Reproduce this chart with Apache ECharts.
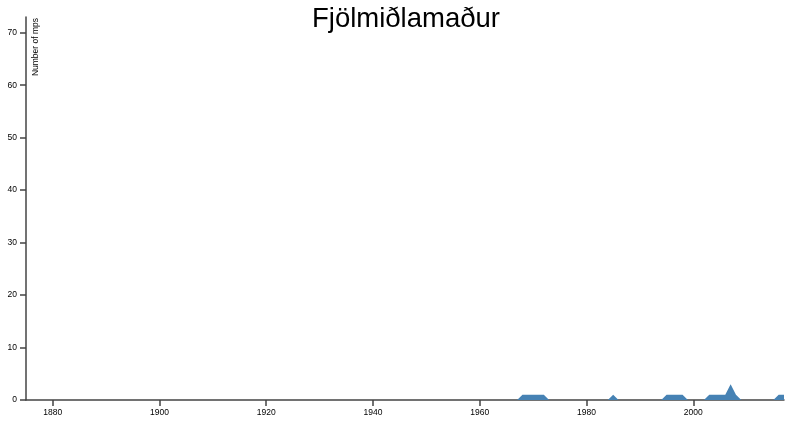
<!DOCTYPE html>
<html>
<head>
<meta charset="utf-8">
<script src="https://cdn.jsdelivr.net/npm/echarts@6.0.0/dist/echarts.min.js"></script>
<style>
  html, body { margin: 0; padding: 0; background: #fff; }
  #chart { width: 800px; height: 437px; }
</style>
</head>
<body>
<div id="chart"></div>
<script>
// 标题和坐标轴
const chartTitle = 'Fjölmiðlamaður';
const yAxisName = 'Number of mps';
const xTickValues = [1880, 1900, 1920, 1940, 1960, 1980, 2000];
const yTickValues = [0, 10, 20, 30, 40, 50, 60, 70];

// 每年的议员人数
const years  = [1875, 1967, 1968, 1969, 1970, 1971, 1972, 1973, 1984, 1985, 1986,
                1994, 1995, 1996, 1997, 1998, 1999, 2002, 2003, 2004, 2005, 2006,
                2007, 2008, 2009, 2015, 2016, 2017];
const counts = [0, 0, 1, 1, 1, 1, 1, 0, 0, 1, 0,
                0, 1, 1, 1, 1, 0, 0, 1, 1, 1, 1,
                3, 1, 0, 0, 1, 1];

const axisColor = '#444';
const fontFamily = '"Liberation Sans", Arial, sans-serif';
const smallFont = 8.5;

function initChart() {
    const chart = echarts.init(document.getElementById('chart'));

    const option = {
        animation: false,
        title: {
            text: chartTitle,
            left: 307,
            top: 0,
            textStyle: {
                fontFamily: fontFamily,
                fontSize: 27.5,
                fontWeight: 'normal',
                color: '#000'
            }
        },
        grid: {
            left: 26,
            right: 16,
            top: 17,
            bottom: 37
        },
        xAxis: {
            type: 'value',
            min: 1875,
            max: 2017,
            splitLine: { show: false },
            axisLine: { lineStyle: { color: axisColor, width: 1.5 } },
            axisTick: {
                length: 6,
                customValues: xTickValues,
                lineStyle: { color: axisColor, width: 1.5 }
            },
            axisLabel: {
                customValues: xTickValues,
                formatter: function(value) {
                    return String(value);
                },
                margin: 8,
                fontFamily: fontFamily,
                fontSize: smallFont,
                color: '#000'
            }
        },
        yAxis: {
            type: 'value',
            min: 0,
            max: 73,
            splitLine: { show: false },
            axisLine: { show: true, lineStyle: { color: axisColor, width: 1.5 } },
            axisTick: {
                show: true,
                length: 6,
                customValues: yTickValues,
                lineStyle: { color: axisColor, width: 1.5 }
            },
            axisLabel: {
                customValues: yTickValues,
                margin: 9,
                fontFamily: fontFamily,
                fontSize: smallFont,
                color: '#000'
            }
        },
        graphic: [
            {
                type: 'text',
                x: 31,
                y: 18,
                rotation: Math.PI / 2,
                style: {
                    text: yAxisName,
                    align: 'right',
                    verticalAlign: 'top',
                    fontFamily: fontFamily,
                    fontSize: smallFont,
                    fill: '#000'
                }
            }
        ],
        series: [
            {
                type: 'line',
                data: years.map((y, i) => [y, counts[i]]),
                showSymbol: false,
                lineStyle: { width: 0 },
                areaStyle: { color: '#4682b4', opacity: 1 }
            }
        ]
    };

    chart.setOption(option);
}

window.addEventListener('DOMContentLoaded', initChart);
</script>
</body>
</html>
